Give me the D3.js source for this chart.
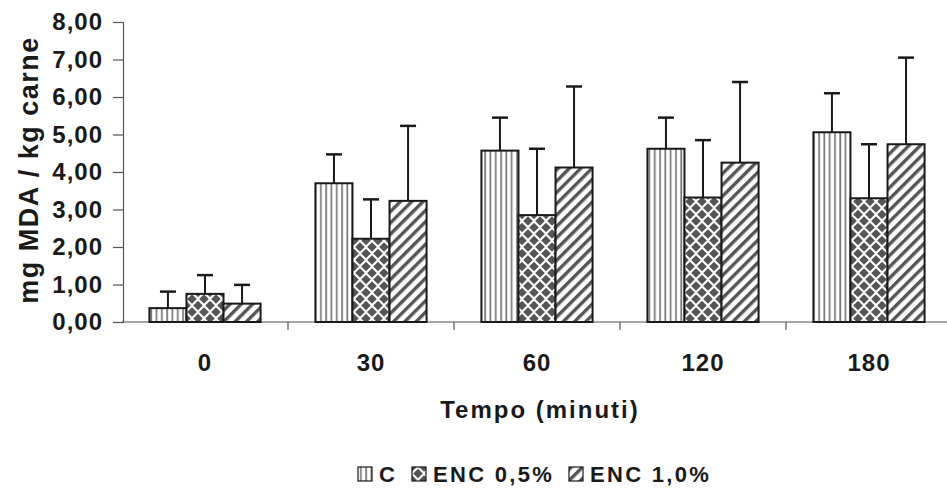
<!DOCTYPE html>
<html>
<head>
<meta charset="utf-8">
<script src="https://cdn.jsdelivr.net/npm/d3@7"></script>
<style>
  body { margin: 0; background: #fff; }
  text { font-family: "Liberation Sans", Arial, sans-serif; font-weight: bold; fill: #1a1a1a; }
</style>
</head>
<body>
<div id="vis"></div>
<script>
// data
var categories = ['0', '30', '60', '120', '180'];
var series = ['C', 'ENC 0,5%', 'ENC 1,0%'];
var valuesC   = [0.37, 3.70, 4.57, 4.62, 5.06];
var valuesE05 = [0.75, 2.22, 2.85, 3.32, 3.30];
var valuesE10 = [0.49, 3.23, 4.12, 4.25, 4.74];
var errTopC   = [0.81, 4.47, 5.45, 5.45, 6.10];
var errTopE05 = [1.25, 3.27, 4.62, 4.85, 4.74];
var errTopE10 = [0.99, 5.23, 6.28, 6.40, 7.05];
var yTicks = [0, 1, 2, 3, 4, 5, 6, 7, 8];

var width = 947;
var height = 496;
var plotLeft = 122, plotRight = 952, plotTop = 22, plotBottom = 322;

var svg = d3.select('#vis').append('svg')
  .attr('width', width)
  .attr('height', height);

// patterns
var defs = svg.append('defs');

var pVert = defs.append('pattern')
  .attr('id', 'pat-c')
  .attr('patternUnits', 'userSpaceOnUse')
  .attr('width', 5.3).attr('height', 5);
pVert.append('rect').attr('width', 5.3).attr('height', 5).attr('fill', '#fff');
pVert.append('rect').attr('x', 2).attr('width', 1.7).attr('height', 5).attr('fill', '#777');

var pDiam = defs.append('pattern')
  .attr('id', 'pat-e05')
  .attr('patternUnits', 'userSpaceOnUse')
  .attr('width', 12).attr('height', 13);
pDiam.append('rect').attr('width', 12).attr('height', 13).attr('fill', '#fff');
[[0, 0], [12, 0], [0, 13], [12, 13], [6, 6.5]].forEach(function (c) {
  var r = 4.8;
  pDiam.append('path')
    .attr('d', 'M' + c[0] + ',' + (c[1] - r) + 'L' + (c[0] + r) + ',' + c[1] +
               'L' + c[0] + ',' + (c[1] + r) + 'L' + (c[0] - r) + ',' + c[1] + 'Z')
    .attr('fill', '#555');
});

var pDiag = defs.append('pattern')
  .attr('id', 'pat-e10')
  .attr('patternUnits', 'userSpaceOnUse')
  .attr('width', 8).attr('height', 8)
  .attr('patternTransform', 'rotate(45)');
pDiag.append('rect').attr('width', 8).attr('height', 8).attr('fill', '#fff');
pDiag.append('rect').attr('width', 3.4).attr('height', 8).attr('fill', '#555');

var fills = { 'C': 'url(#pat-c)', 'ENC 0,5%': 'url(#pat-e05)', 'ENC 1,0%': 'url(#pat-e10)' };

// scales
var x0 = d3.scaleBand()
  .domain(categories)
  .range([plotLeft, plotRight])
  .padding(0);

var x1 = d3.scaleBand()
  .domain(series)
  .range([0, x0.bandwidth()])
  .paddingInner(0)
  .paddingOuter(0.74);

var y = d3.scaleLinear()
  .domain([0, 8])
  .range([plotBottom, plotTop]);

// table for bars
var rows = categories.map(function (cat, i) {
  return [
    { cat: cat, s: 'C', v: valuesC[i], e: errTopC[i] },
    { cat: cat, s: 'ENC 0,5%', v: valuesE05[i], e: errTopE05[i] },
    { cat: cat, s: 'ENC 1,0%', v: valuesE10[i], e: errTopE10[i] }
  ];
});
var bars = [].concat.apply([], rows);

// y axis
var yAxis = d3.axisLeft(y)
  .tickValues(yTicks)
  .tickSize(10)
  .tickPadding(10)
  .tickFormat(function (d) { return d3.format('.2f')(d).replace('.', ','); });

var gy = svg.append('g')
  .attr('transform', 'translate(' + (plotLeft + 1) + ',0)')
  .call(yAxis);
gy.select('.domain').attr('stroke', '#555').attr('stroke-width', 1.2);
gy.selectAll('.tick line').attr('stroke', '#555').attr('stroke-width', 1.2);
gy.selectAll('.tick text')
  .style('font-size', '24px')
  .style('letter-spacing', '1px')
  .attr('fill', '#1a1a1a');

// x axis line + boundary ticks
svg.append('line')
  .attr('x1', plotLeft).attr('x2', width)
  .attr('y1', y(0)).attr('y2', y(0))
  .attr('stroke', '#555').attr('stroke-width', 1.2);

svg.selectAll('.xtick')
  .data(categories.slice(1))
  .enter().append('line')
  .attr('class', 'xtick')
  .attr('x1', function (d) { return x0(d); })
  .attr('x2', function (d) { return x0(d); })
  .attr('y1', y(0)).attr('y2', y(0) + 8)
  .attr('stroke', '#555').attr('stroke-width', 1.2);

svg.selectAll('.xlabel')
  .data(categories)
  .enter().append('text')
  .attr('class', 'xlabel')
  .attr('x', function (d) { return x0(d) + x0.bandwidth() / 2; })
  .attr('y', 371)
  .attr('text-anchor', 'middle')
  .style('font-size', '24px')
  .style('letter-spacing', '1px')
  .text(function (d) { return d; });

// bars
svg.selectAll('.bar')
  .data(bars)
  .enter().append('rect')
  .attr('class', 'bar')
  .attr('x', function (d) { return x0(d.cat) + x1(d.s); })
  .attr('y', function (d) { return y(d.v); })
  .attr('width', x1.bandwidth())
  .attr('height', function (d) { return y(0) - y(d.v); })
  .attr('fill', function (d) { return fills[d.s]; })
  .attr('stroke', '#1a1a1a')
  .attr('stroke-width', 2);

// error bars
var err = svg.selectAll('.err')
  .data(bars)
  .enter().append('g')
  .attr('class', 'err')
  .attr('stroke', '#1a1a1a')
  .attr('stroke-width', 2);

err.append('line')
  .attr('x1', function (d) { return x0(d.cat) + x1(d.s) + x1.bandwidth() / 2; })
  .attr('x2', function (d) { return x0(d.cat) + x1(d.s) + x1.bandwidth() / 2; })
  .attr('y1', function (d) { return y(d.v); })
  .attr('y2', function (d) { return y(d.e); });

err.append('line')
  .attr('x1', function (d) { return x0(d.cat) + x1(d.s) + x1.bandwidth() / 2 - 8; })
  .attr('x2', function (d) { return x0(d.cat) + x1(d.s) + x1.bandwidth() / 2 + 8; })
  .attr('y1', function (d) { return y(d.e); })
  .attr('y2', function (d) { return y(d.e); })
  .attr('stroke-width', 2.5);

// axis titles
svg.append('text')
  .attr('transform', 'translate(38,170) rotate(-90)')
  .attr('text-anchor', 'middle')
  .style('font-size', '27px')
  .style('letter-spacing', '1.5px')
  .text('mg MDA / kg carne');

svg.append('text')
  .attr('x', 540)
  .attr('y', 418)
  .attr('text-anchor', 'middle')
  .style('font-size', '24px')
  .style('letter-spacing', '2px')
  .text('Tempo (minuti)');

// legend
var legendItems = [
  { s: 'C', x: 358 },
  { s: 'ENC 0,5%', x: 412 },
  { s: 'ENC 1,0%', x: 569 }
];

var legend = svg.selectAll('.legend')
  .data(legendItems)
  .enter().append('g')
  .attr('class', 'legend')
  .attr('transform', function (d) { return 'translate(' + d.x + ',467)'; });

legend.append('rect')
  .attr('width', 14).attr('height', 14)
  .attr('fill', function (d) { return fills[d.s]; })
  .attr('stroke', '#1a1a1a')
  .attr('stroke-width', 1.2);

legend.append('text')
  .attr('x', 21)
  .attr('y', 15)
  .style('font-size', '22px')
  .style('letter-spacing', '2.3px')
  .text(function (d) { return d.s; });
</script>
</body>
</html>
